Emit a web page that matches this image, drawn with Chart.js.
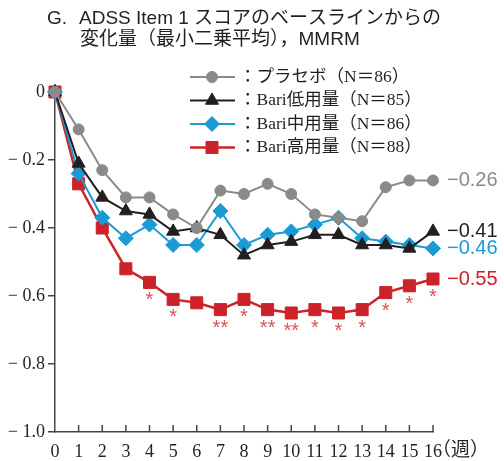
<!DOCTYPE html>
<html>
<head>
<meta charset="utf-8">
<script src="https://cdn.jsdelivr.net/npm/chart.js@4"></script>
<style>
	html, body { margin: 0; padding: 0; background: #fff; }
	canvas { display: block; }
</style>
</head>
<body>
<canvas id="chart" width="504" height="461"></canvas>
<script>
const weeks = ['0', '1', '2', '3', '4', '5', '6', '7', '8', '9', '10', '11', '12', '13', '14', '15', '16']

const placebo = [0, -0.11, -0.23, -0.31, -0.31, -0.36, -0.40, -0.29, -0.30, -0.27, -0.30, -0.36, -0.37, -0.38, -0.28, -0.26, -0.26]
const bariLow = [0, -0.21, -0.31, -0.35, -0.36, -0.41, -0.40, -0.42, -0.48, -0.45, -0.44, -0.42, -0.42, -0.45, -0.45, -0.46, -0.41]
const bariMid = [0, -0.24, -0.37, -0.43, -0.39, -0.45, -0.45, -0.35, -0.45, -0.42, -0.41, -0.39, -0.37, -0.43, -0.44, -0.45, -0.46]
const bariHigh = [0, -0.27, -0.40, -0.52, -0.56, -0.61, -0.62, -0.64, -0.61, -0.64, -0.65, -0.64, -0.65, -0.64, -0.59, -0.57, -0.55]

// 有意差マーク（Bari高用量 vs プラセボ）
const highSig = ['', '', '', '', '*', '*', '', '**', '*', '**', '**', '*', '*', '*', '*', '*', '*']

const seriesNames = ['：プラセボ（N＝86）', '：Bari低用量（N＝85）', '：Bari中用量（N＝86）', '：Bari高用量（N＝88）']

const yTickValues = [0, -0.2, -0.4, -0.6, -0.8, -1.0]
const yTickLabels = ['0', '− 0.2', '− 0.4', '− 0.6', '− 0.8', '− 1.0']

const titleLines = ['ADSS Item 1 スコアのベースラインからの', '変化量（最小二乗平均），MMRM']

const serif = '"Liberation Serif", "Noto Sans CJK JP", serif'
const sans = '"Liberation Sans", "Noto Sans CJK JP", sans-serif'
const axisColor = '#444'

function makeSeries(label, data, color, style, radius, width) {
	return {
		label: label,
		data: data,
		borderColor: color,
		backgroundColor: color,
		borderWidth: width,
		pointStyle: style,
		pointRadius: radius,
		pointBorderWidth: 1,
		pointBorderColor: color,
		pointBackgroundColor: color,
		tension: 0,
		clip: false,
	}
}

const datasets = [
	makeSeries(seriesNames[0], placebo, '#8a8a8a', 'circle', 5.5, 2),
	makeSeries(seriesNames[1], bariLow, '#231f20', 'triangle', 7.5, 2),
	makeSeries(seriesNames[2], bariMid, '#1b9ad6', 'rectRot', 7.5, 2),
	makeSeries(seriesNames[3], bariHigh, '#cc2229', 'rect', 8.5, 2.5),
]

const overlay = {
	id: 'overlay',
	afterDraw(chart) {
		const ctx = chart.ctx
		const xs = chart.scales.x
		const ys = chart.scales.y
		const area = chart.chartArea

		ctx.save()

		// タイトル
		ctx.fillStyle = '#231f20'
		ctx.font = '19px ' + sans
		ctx.textBaseline = 'middle'
		ctx.textAlign = 'left'
		ctx.fillText('G.', 47, 19)
		ctx.fillText(titleLines[0], 79, 19)
		ctx.fillText(titleLines[1], 80, 40)

		// x軸の内向き目盛り
		ctx.strokeStyle = axisColor
		ctx.lineWidth = 1.5
		for (let i = 1; i < weeks.length; i++) {
			const px = xs.getPixelForValue(i)
			ctx.beginPath()
			ctx.moveTo(px, area.bottom)
			ctx.lineTo(px, area.bottom - 7)
			ctx.stroke()
		}

		// 単位
		ctx.fillStyle = '#231f20'
		ctx.font = '19px ' + serif
		ctx.fillText('（週）', xs.getPixelForValue(16) - 1, 451)

		// 凡例
		ctx.font = '17.5px ' + serif
		chart.data.datasets.forEach((ds, i) => {
			const rowY = 77 + i * 23.5
			ctx.strokeStyle = ds.borderColor
			ctx.fillStyle = ds.borderColor
			ctx.lineWidth = ds.borderWidth
			ctx.beginPath()
			ctx.moveTo(190, rowY)
			ctx.lineTo(235, rowY)
			ctx.stroke()
			ctx.lineWidth = 1
			Chart.helpers.drawPoint(ctx, { pointStyle: ds.pointStyle, radius: ds.pointRadius, rotation: 0, borderWidth: 1 }, 212, rowY)
			ctx.fillStyle = '#231f20'
			ctx.fillText(ds.label, 239, rowY)
		})

		// 最終週の値
		ctx.font = '20px ' + sans
		chart.data.datasets.forEach(ds => {
			const last = ds.data[ds.data.length - 1]
			ctx.fillStyle = ds.borderColor
			ctx.fillText('−' + Math.abs(last).toFixed(2), 447, ys.getPixelForValue(last))
		})

		// 有意差マーク
		ctx.fillStyle = '#e0505a'
		ctx.font = '20px ' + sans
		ctx.textAlign = 'center'
		ctx.textBaseline = 'alphabetic'
		highSig.forEach((mark, i) => {
			if (!mark) return
			ctx.fillText(mark, xs.getPixelForValue(i), ys.getPixelForValue(bariHigh[i]) + 24)
		})

		ctx.restore()
	},
}

new Chart(document.getElementById('chart').getContext('2d'), {
	type: 'line',
	data: { labels: weeks, datasets: datasets },
	options: {
		responsive: false,
		animation: false,
		layout: { padding: { top: 92, right: 71, left: 0, bottom: 0 } },
		plugins: {
			legend: { display: false },
			tooltip: { enabled: false },
			title: { display: false },
		},
		scales: {
			x: {
				offset: false,
				grid: { display: false },
				border: { color: axisColor, width: 1.5 },
				ticks: {
					autoSkip: false,
					maxRotation: 0,
					padding: 1,
					color: '#231f20',
					font: { family: serif, size: 18 },
				},
				afterFit(scale) {
					scale.height = 29
				},
			},
			y: {
				min: -1,
				max: 0,
				grid: {
					drawOnChartArea: false,
					drawTicks: true,
					tickLength: 7,
					color: axisColor,
					lineWidth: 1.5,
				},
				border: { color: axisColor, width: 1.5 },
				ticks: {
					stepSize: 0.2,
					padding: 3,
					color: '#231f20',
					font: { family: serif, size: 18 },
					callback: value => {
						const idx = yTickValues.findIndex(t => Math.abs(t - value) < 1e-6)
						return idx >= 0 ? yTickLabels[idx] : ''
					},
				},
				afterFit(scale) {
					scale.width = 55
				},
			},
		},
	},
	plugins: [overlay],
})
</script>
</body>
</html>
